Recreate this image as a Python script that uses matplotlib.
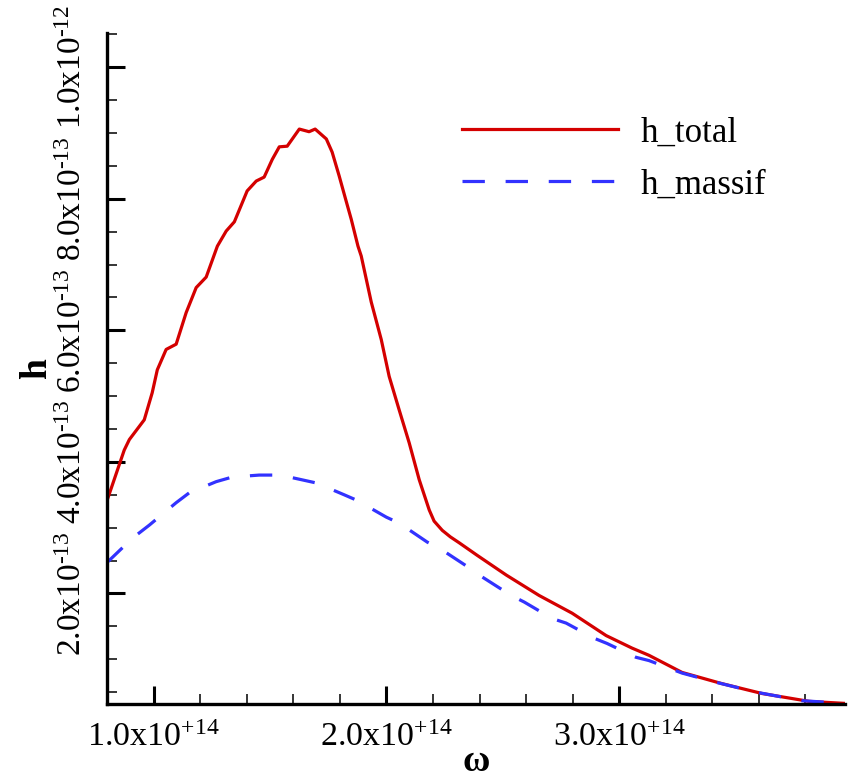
import matplotlib
matplotlib.use("Agg")
import matplotlib.pyplot as plt
import numpy as np

plt.rcParams['font.family'] = 'Liberation Serif'
plt.rcParams['mathtext.fontset'] = 'custom'
plt.rcParams['mathtext.rm'] = 'Liberation Serif'
plt.rcParams['mathtext.it'] = 'Liberation Serif:italic'
plt.rcParams['mathtext.bf'] = 'Liberation Serif:bold'

# omega in units of 1e14, h in units of 1e-13
w_total = [0.797, 0.874, 0.896, 0.960, 0.994, 1.016, 1.054, 1.097, 1.140, 1.183,
           1.226, 1.274, 1.312, 1.347, 1.402, 1.441, 1.475, 1.510, 1.540, 1.574,
           1.626, 1.668, 1.694, 1.742, 1.767, 1.797, 1.826, 1.849, 1.878, 1.892,
           1.935, 1.978, 2.012, 2.055, 2.098, 2.141, 2.184, 2.205, 2.240, 2.275,
           2.313, 2.390, 2.515, 2.656, 2.798, 2.944, 3.055, 3.128, 3.270, 3.441,
           3.613, 3.815, 3.965]
h_total = [3.38, 4.18, 4.34, 4.64, 5.05, 5.40, 5.71, 5.79, 6.27, 6.65,
           6.81, 7.28, 7.51, 7.65, 8.12, 8.27, 8.33, 8.60, 8.79, 8.80,
           9.06, 9.02, 9.06, 8.91, 8.71, 8.35, 7.98, 7.69, 7.28, 7.13,
           6.43, 5.86, 5.30, 4.79, 4.29, 3.73, 3.27, 3.10, 2.96, 2.86,
           2.77, 2.58, 2.28, 1.97, 1.70, 1.36, 1.17, 1.06, 0.80, 0.63,
           0.48, 0.36, 0.33]

w_massif = [0.797, 0.909, 0.982, 1.097, 1.153, 1.269, 1.338, 1.454, 1.510, 1.583,
            1.635, 1.699, 1.819, 1.871, 2.000, 2.055, 2.176, 2.227, 2.356, 2.412,
            2.536, 2.592, 2.712, 2.772, 2.892, 2.948, 3.072, 3.128, 3.270, 3.416,
            3.588, 3.785, 3.965]
h_massif = [2.46, 2.84, 3.04, 3.38, 3.53, 3.70, 3.77, 3.80, 3.80, 3.77,
            3.73, 3.68, 3.50, 3.42, 3.16, 3.07, 2.78, 2.69, 2.39, 2.25,
            1.97, 1.87, 1.62, 1.55, 1.32, 1.24, 1.03, 0.98, 0.79, 0.65,
            0.50, 0.37, 0.33]

xticks = [1e14, 2e14, 3e14]
xticklabels = ['1.0x10$^{+14}$', '2.0x10$^{+14}$', '3.0x10$^{+14}$']
yticks = [2e-13, 4e-13, 6e-13, 8e-13, 1e-12]
yticklabels = [r'2.0x10$^{\text{-13}}$', r'4.0x10$^{\text{-13}}$',
               r'6.0x10$^{\text{-13}}$', r'8.0x10$^{\text{-13}}$',
               r'1.0x10$^{\text{-12}}$']

fig = plt.figure(figsize=(8.52, 7.81), dpi=100)
ax = fig.add_axes([0.1256, 0.0986, 0.8662, 0.8591])

ax.plot(np.array(w_total) * 1e14, np.array(h_total) * 1e-13,
        color='#d40000', lw=2.3, label='h_total')
ax.plot(np.array(w_massif) * 1e14, np.array(h_massif) * 1e-13,
        color='#3232ff', lw=2.3, ls=(0, (7, 6.5)), label='h_massif')

ax.set_xlim(0.8e14, 3.97e14)
ax.set_ylim(0.32e-13, 1.052e-12)

ax.set_xticks(xticks)
ax.set_xticklabels(xticklabels)
ax.set_xticks(np.arange(0.8e14, 3.97e14, 0.2e14), minor=True)
ax.set_yticks(yticks)
ax.set_yticklabels(yticklabels, rotation=90, va='center')
ax.set_yticks(np.arange(0.5e-13, 1.06e-12, 0.5e-13), minor=True)

ax.tick_params(which='major', direction='in', length=13, width=2.2,
               labelsize=24.5, pad=13)
ax.tick_params(which='minor', direction='in', length=7, width=1.1)
ax.tick_params(axis='y', which='major', pad=14, labelsize=24)

for s in ['top', 'right']:
    ax.spines[s].set_visible(False)
for s in ['left', 'bottom']:
    ax.spines[s].set_linewidth(2.4)

ax.set_xlabel('ω', fontsize=27, fontweight='bold', labelpad=-6)
ax.set_ylabel('h', fontsize=27, fontweight='bold', labelpad=2)

ax.legend(loc='upper left', bbox_to_anchor=(0.481, 0.876), frameon=False,
          fontsize=25, handlelength=4.5, handletextpad=0.65,
          labelspacing=0.55, borderpad=0, borderaxespad=0)

fig.savefig('out.png', dpi=100)
